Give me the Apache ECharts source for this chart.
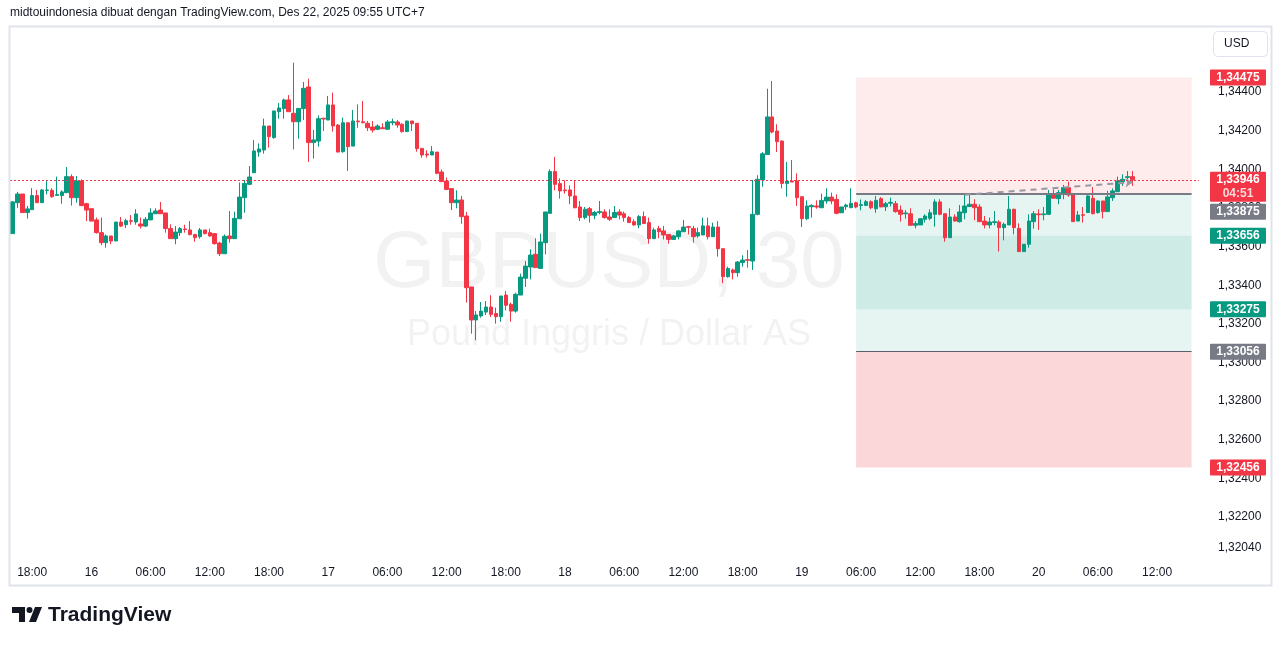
<!DOCTYPE html>
<html><head><meta charset="utf-8">
<script src="https://cdn.jsdelivr.net/npm/echarts@6/dist/echarts.min.js"></script>
<style>html,body{margin:0;padding:0;background:#fff;}#c{width:1281px;height:646px;}</style>
</head><body><div id="c"></div>
<script>
// ---- data (30-minute GBPUSD candles) ----
const opens = [1.33667,1.33827,1.33872,1.33776,1.33791,1.33864,1.33827,1.33891,1.33891,1.33865,
1.33864,1.33879,1.33962,1.33853,1.33939,1.33822,1.33796,1.33738,1.33672,1.33620,
1.33655,1.33629,1.33727,1.33713,1.33734,1.33727,1.33717,1.33706,1.33738,1.33770,
1.33789,1.33774,1.33693,1.33641,1.33672,1.33691,1.33686,1.33663,1.33651,1.33686,
1.33672,1.33667,1.33618,1.33563,1.33655,1.33641,1.33744,1.33853,1.33922,1.33982,
1.34089,1.34100,1.34224,1.34164,1.34298,1.34314,1.34359,1.34290,1.34246,1.34314,
1.34426,1.34138,1.34146,1.34264,1.34255,1.34333,1.34229,1.34091,1.34241,1.34120,
1.34250,1.34246,1.34238,1.34219,1.34207,1.34215,1.34207,1.34241,1.34245,1.34233,
1.34195,1.34250,1.34238,1.34108,1.34079,1.34074,1.34089,1.33986,1.33939,1.33900,
1.33827,1.33841,1.33758,1.33391,1.33220,1.33241,1.33261,1.33287,1.33253,1.33237,
1.33349,1.33301,1.33266,1.33349,1.33436,1.33494,1.33560,1.33487,1.33620,1.33772,
1.33988,1.33926,1.33893,1.33893,1.33862,1.33805,1.33750,1.33796,1.33762,1.33776,
1.33779,1.33753,1.33750,1.33779,1.33770,1.33750,1.33729,1.33712,1.33755,1.33724,
1.33641,1.33693,1.33681,1.33663,1.33637,1.33651,1.33677,1.33703,1.33693,1.33655,
1.33660,1.33707,1.33651,1.33701,1.33589,1.33444,1.33479,1.33465,1.33517,1.33532,
1.33525,1.33767,1.33945,1.34077,1.34271,1.34198,1.34146,1.33927,1.33939,1.33939,
1.33858,1.33744,1.33806,1.33810,1.33801,1.33836,1.33856,1.33844,1.33775,1.33806,
1.33801,1.33827,1.33813,1.33813,1.33832,1.33796,1.33848,1.33806,1.33824,1.33822,
1.33789,1.33770,1.33770,1.33710,1.33712,1.33741,1.33746,1.33767,1.33831,1.33770,
1.33646,1.33753,1.33729,1.33775,1.33807,1.33819,1.33805,1.33732,1.33712,1.33725,
1.33727,1.33698,1.33712,1.33793,1.33694,1.33574,1.33612,1.33729,1.33769,1.33765,
1.33767,1.33874,1.33848,1.33874,1.33905,1.33870,1.33732,1.33765,1.33776,1.33850,
1.33776,1.33836,1.33781,1.33853,1.33884,1.33936,1.33958,1.33962];
const highs = [1.33836,1.33883,1.33872,1.33810,1.33902,1.33893,1.33898,1.33939,1.33902,1.33962,
1.33891,1.34012,1.33974,1.33965,1.33948,1.33827,1.33796,1.33750,1.33750,1.33663,
1.33655,1.33727,1.33753,1.33744,1.33763,1.33793,1.33750,1.33753,1.33798,1.33798,
1.33831,1.33774,1.33715,1.33706,1.33701,1.33713,1.33732,1.33663,1.33696,1.33686,
1.33693,1.33667,1.33625,1.33663,1.33784,1.33781,1.33931,1.33945,1.34017,1.34152,
1.34134,1.34262,1.34224,1.34302,1.34343,1.34366,1.34384,1.34552,1.34315,1.34452,
1.34469,1.34203,1.34279,1.34267,1.34379,1.34397,1.34234,1.34267,1.34241,1.34307,
1.34336,1.34353,1.34250,1.34250,1.34233,1.34238,1.34255,1.34262,1.34255,1.34238,
1.34250,1.34250,1.34238,1.34108,1.34098,1.34120,1.34089,1.33999,1.33957,1.33900,
1.33891,1.33862,1.33779,1.33391,1.33266,1.33313,1.33318,1.33348,1.33284,1.33344,
1.33370,1.33310,1.33361,1.33460,1.33525,1.33586,1.33643,1.33667,1.33779,1.34000,
1.34064,1.33953,1.33943,1.33917,1.33939,1.33836,1.33805,1.33805,1.33784,1.33836,
1.33793,1.33793,1.33810,1.33793,1.33781,1.33758,1.33741,1.33763,1.33781,1.33750,
1.33698,1.33707,1.33707,1.33663,1.33660,1.33686,1.33738,1.33707,1.33707,1.33698,
1.33750,1.33750,1.33724,1.33732,1.33589,1.33496,1.33486,1.33525,1.33555,1.33582,
1.33945,1.33969,1.34089,1.34417,1.34457,1.34233,1.34150,1.34038,1.34048,1.33979,
1.33858,1.33839,1.33819,1.33839,1.33874,1.33901,1.33879,1.33870,1.33805,1.33822,
1.33901,1.33832,1.33844,1.33841,1.33839,1.33862,1.33856,1.33832,1.33853,1.33836,
1.33813,1.33789,1.33798,1.33732,1.33746,1.33767,1.33793,1.33845,1.33845,1.33770,
1.33798,1.33767,1.33815,1.33874,1.33870,1.33845,1.33819,1.33758,1.33750,1.33784,
1.33736,1.33724,1.33862,1.33796,1.33720,1.33612,1.33767,1.33784,1.33793,1.33805,
1.33893,1.33896,1.33893,1.33919,1.33936,1.33870,1.33784,1.33805,1.33865,1.33908,
1.33839,1.33836,1.33888,1.33901,1.33962,1.33974,1.33991,1.33991];
const lows = [1.33667,1.33800,1.33776,1.33745,1.33791,1.33827,1.33827,1.33870,1.33853,1.33862,
1.33822,1.33879,1.33812,1.33827,1.33812,1.33732,1.33732,1.33667,1.33607,1.33594,
1.33612,1.33629,1.33701,1.33696,1.33713,1.33713,1.33693,1.33701,1.33738,1.33770,
1.33770,1.33672,1.33641,1.33612,1.33655,1.33672,1.33658,1.33625,1.33641,1.33663,
1.33650,1.33610,1.33551,1.33563,1.33620,1.33641,1.33744,1.33775,1.33919,1.33982,
1.34065,1.34081,1.34112,1.34158,1.34262,1.34262,1.34298,1.34103,1.34158,1.34255,
1.34038,1.34055,1.34117,1.34198,1.34255,1.34195,1.34089,1.34086,1.33991,1.34120,
1.34215,1.34238,1.34198,1.34190,1.34202,1.34210,1.34207,1.34228,1.34215,1.34190,
1.34195,1.34198,1.34091,1.34060,1.34060,1.34074,1.33974,1.33936,1.33893,1.33789,
1.33798,1.33718,1.33310,1.33149,1.33115,1.33232,1.33246,1.33235,1.33201,1.33211,
1.33270,1.33211,1.33258,1.33349,1.33391,1.33430,1.33491,1.33487,1.33560,1.33772,
1.33891,1.33848,1.33874,1.33819,1.33798,1.33732,1.33741,1.33724,1.33741,1.33767,
1.33745,1.33732,1.33750,1.33741,1.33729,1.33724,1.33707,1.33694,1.33719,1.33615,
1.33641,1.33643,1.33637,1.33615,1.33634,1.33637,1.33677,1.33663,1.33620,1.33646,
1.33660,1.33637,1.33651,1.33548,1.33410,1.33439,1.33430,1.33444,1.33496,1.33491,
1.33479,1.33762,1.33910,1.34077,1.34186,1.34089,1.33901,1.33858,1.33934,1.33810,
1.33701,1.33737,1.33750,1.33796,1.33801,1.33822,1.33819,1.33767,1.33775,1.33789,
1.33801,1.33798,1.33788,1.33810,1.33793,1.33775,1.33805,1.33784,1.33807,1.33775,
1.33729,1.33744,1.33710,1.33694,1.33712,1.33724,1.33736,1.33703,1.33762,1.33625,
1.33646,1.33729,1.33724,1.33741,1.33807,1.33736,1.33729,1.33694,1.33694,1.33710,
1.33574,1.33632,1.33712,1.33663,1.33574,1.33574,1.33594,1.33693,1.33686,1.33736,
1.33763,1.33850,1.33819,1.33845,1.33858,1.33729,1.33732,1.33724,1.33776,1.33767,
1.33770,1.33746,1.33781,1.33836,1.33884,1.33914,1.33948,1.33914];
const closes = [1.33831,1.33872,1.33776,1.33795,1.33864,1.33827,1.33893,1.33893,1.33858,1.33869,
1.33883,1.33962,1.33853,1.33939,1.33812,1.33789,1.33732,1.33672,1.33620,1.33655,
1.33629,1.33727,1.33706,1.33734,1.33731,1.33769,1.33706,1.33741,1.33774,1.33784,
1.33770,1.33693,1.33641,1.33675,1.33693,1.33688,1.33662,1.33646,1.33686,1.33667,
1.33655,1.33615,1.33563,1.33653,1.33641,1.33746,1.33856,1.33927,1.33960,1.34095,
1.34105,1.34224,1.34169,1.34302,1.34317,1.34359,1.34298,1.34246,1.34315,1.34419,
1.34138,1.34152,1.34262,1.34260,1.34333,1.34224,1.34089,1.34241,1.34117,1.34250,
1.34246,1.34241,1.34215,1.34203,1.34224,1.34210,1.34245,1.34246,1.34229,1.34195,
1.34250,1.34236,1.34107,1.34074,1.34074,1.34091,1.33979,1.33936,1.33896,1.33827,
1.33841,1.33755,1.33387,1.33220,1.33246,1.33266,1.33287,1.33249,1.33237,1.33344,
1.33296,1.33266,1.33353,1.33442,1.33499,1.33556,1.33491,1.33624,1.33779,1.33988,
1.33922,1.33888,1.33889,1.33862,1.33801,1.33750,1.33793,1.33762,1.33776,1.33781,
1.33750,1.33741,1.33776,1.33763,1.33750,1.33724,1.33712,1.33755,1.33719,1.33641,
1.33686,1.33677,1.33660,1.33637,1.33655,1.33681,1.33701,1.33700,1.33651,1.33672,
1.33707,1.33651,1.33701,1.33589,1.33444,1.33486,1.33465,1.33520,1.33530,1.33529,
1.33767,1.33948,1.34080,1.34271,1.34193,1.34143,1.33927,1.33939,1.33934,1.33853,
1.33744,1.33810,1.33813,1.33805,1.33839,1.33856,1.33836,1.33772,1.33805,1.33815,
1.33824,1.33805,1.33817,1.33832,1.33801,1.33839,1.33805,1.33822,1.33829,1.33781,
1.33767,1.33774,1.33710,1.33719,1.33744,1.33758,1.33775,1.33831,1.33767,1.33646,
1.33753,1.33732,1.33779,1.33810,1.33819,1.33801,1.33729,1.33712,1.33727,1.33729,
1.33698,1.33715,1.33793,1.33698,1.33574,1.33612,1.33732,1.33770,1.33765,1.33769,
1.33870,1.33850,1.33879,1.33905,1.33867,1.33729,1.33763,1.33762,1.33862,1.33770,
1.33836,1.33781,1.33857,1.33888,1.33939,1.33948,1.33962,1.33946];

// time-axis tick labels (bar index -> label); bar 0 = Dec 15 16:00
const timeTickIndex = [4,16,28,40,52,64,76,88,100,112,124,136,148,160,172,184,196,208,220,232];
const timeTickText  = ['18:00','16','06:00','12:00','18:00','17','06:00','12:00','18:00','18','06:00','12:00','18:00','19','06:00','12:00','18:00','20','06:00','12:00'];
const totalSlots = 241;

// price scale tick labels
const priceTicks = [1.344,1.342,1.340,1.338,1.336,1.334,1.332,1.330,1.328,1.326,1.324,1.322,1.3204];

// current price and position-tool levels
const currentPrice = 1.33946;
const countdown = '04:51';
const levelStopTop = 1.34475;
const levelEntry = 1.33875;
const levelTarget1 = 1.33656;
const levelTarget2 = 1.33275;
const levelTarget3 = 1.33056;
const levelStopBottom = 1.32456;
const toolStartBar = 171, toolEndBar = 239;
const trendStart = [193, 1.33868];
const trendEnd = [227, 1.33933];

// ---- build ----
const UP = '#089981', DOWN = '#f23645', GREY = '#787b86';
const categories = [];
for (let i = 0; i < totalSlots; i++) {
  const k = timeTickIndex.indexOf(i);
  categories.push(k >= 0 ? timeTickText[k] : '');
}
const candleData = [];
for (let i = 0; i < totalSlots; i++) {
  candleData.push(i < opens.length ? [opens[i], closes[i], lows[i], highs[i]] : '-');
}
const fmt = v => v.toFixed(5).replace('.', ',');
const FONT = '"Liberation Sans", Arial, sans-serif';

const area = (a, b, color) => [{coord:[toolStartBar, a], itemStyle:{color}}, {coord:[toolEndBar, b]}];

const option = {
  animation: false,
  backgroundColor: '#ffffff',
  grid: {left: 10, right: 82, top: 29, bottom: 85, containLabel: false},
  xAxis: {
    type: 'category', data: categories, boundaryGap: true,
    axisLine: {show: false}, axisTick: {show: false}, splitLine: {show: false},
    axisLabel: {interval: 0, color: '#131722', fontSize: 12, fontFamily: FONT, margin: 6, hideOverlap: false}
  },
  yAxis: {
    type: 'value', position: 'right', min: 1.319725, max: 1.347261, scale: true,
    axisLine: {show: false}, axisTick: {show: false}, splitLine: {show: false},
    axisLabel: {color: '#131722', fontSize: 12, fontFamily: FONT, margin: 19,
      customValues: priceTicks, formatter: v => fmt(v)}
  },
  series: [{
    type: 'candlestick', data: candleData, barWidth: 4, z: 3,
    itemStyle: {color: UP, color0: DOWN, borderColor: UP, borderColor0: DOWN, borderWidth: 1},
    markArea: {
      silent: true, z: 1,
      data: [
        area(levelStopTop, levelEntry, 'rgba(242,54,69,0.10)'),
        area(levelEntry, levelTarget1, 'rgba(8,153,129,0.10)'),
        area(levelTarget1, levelTarget2, 'rgba(8,153,129,0.20)'),
        area(levelTarget2, levelTarget3, 'rgba(8,153,129,0.10)'),
        area(levelTarget3, levelStopBottom, 'rgba(242,54,69,0.20)')
      ]
    },
    markLine: {
      silent: true, precision: 5, symbol: ['none', 'none'], label: {show: false}, animation: false,
      data: [
        [{coord: [toolStartBar, levelEntry], lineStyle: {color: GREY, width: 2, type: 'solid'}}, {coord: [toolEndBar, levelEntry]}],
        [{coord: [toolStartBar, levelTarget3], lineStyle: {color: '#5d606b', width: 1, type: 'solid'}}, {coord: [toolEndBar, levelTarget3]}],
        [{coord: trendStart, symbol: 'none', lineStyle: {color: '#9598a1', width: 2, type: [6, 5]}}, {coord: trendEnd, symbol: 'arrow', symbolSize: 7}]
      ]
    }
  }]
};

const chart = echarts.init(document.getElementById('c'));
chart.setOption(option);

const yPx = v => chart.convertToPixel({yAxisIndex: 0}, v);
const g = [];
// current price dotted line
const cy = Math.round(yPx(currentPrice)) + 0.5;
g.push({type: 'line', shape: {x1: 10, y1: cy, x2: 1199, y2: cy}, style: {stroke: DOWN, lineWidth: 1, lineDash: [2, 2]}, z: 40, silent: true});
// frame
g.push({type: 'rect', shape: {x: 9.5, y: 26.5, width: 1262, height: 559}, style: {fill: 'none', stroke: '#e0e3eb', lineWidth: 2}, z: 50, silent: true});
// title
g.push({type: 'text', x: 10, y: 13, style: {text: 'midtouindonesia dibuat dengan TradingView.com, Des 22, 2025 09:55 UTC+7', fill: '#131722', font: '12px ' + FONT, textVerticalAlign: 'middle'}});
// watermark
g.push({type: 'text', x: 609, y: 265, z: 0, style: {text: 'GBPUSD, 30', fill: 'rgba(19,23,34,0.055)', font: '80px ' + FONT, textAlign: 'center', textVerticalAlign: 'middle'}});
g.push({type: 'text', x: 609, y: 335, z: 0, style: {text: 'Pound Inggris / Dollar AS', fill: 'rgba(19,23,34,0.055)', font: '36px ' + FONT, textAlign: 'center', textVerticalAlign: 'middle'}});
// USD button
g.push({type: 'rect', shape: {x: 1213.5, y: 31.5, width: 54, height: 25, r: 4}, style: {fill: '#fff', stroke: '#e0e3eb', lineWidth: 1}, z: 60});
g.push({type: 'text', x: 1224, y: 44, z: 61, style: {text: 'USD', fill: '#131722', font: '12px ' + FONT, textVerticalAlign: 'middle'}});
// price labels
function priceBox(top, h, bg, txt, sub) {
  g.push({type: 'rect', shape: {x: 1210, y: top, width: 56, height: h, r: 1}, style: {fill: bg}, z: 70});
  g.push({type: 'text', x: 1238, y: top + 8, z: 71, style: {text: txt, fill: '#fff', font: 'bold 12px ' + FONT, textAlign: 'center', textVerticalAlign: 'middle'}});
  if (sub) g.push({type: 'text', x: 1238, y: top + 22, z: 71, style: {text: sub, fill: 'rgba(255,255,255,0.8)', font: 'bold 12px ' + FONT, textAlign: 'center', textVerticalAlign: 'middle'}});
}
priceBox(yPx(levelStopTop) - 8, 16, DOWN, fmt(levelStopTop));
const curTop = yPx(currentPrice) - 8;
priceBox(curTop, 30, DOWN, fmt(currentPrice), countdown);
priceBox(Math.max(yPx(levelEntry) - 8, curTop + 32), 16, GREY, fmt(levelEntry));
priceBox(yPx(levelTarget1) - 8, 16, UP, fmt(levelTarget1));
priceBox(yPx(levelTarget2) - 8, 16, UP, fmt(levelTarget2));
priceBox(yPx(levelTarget3) - 8, 16, GREY, fmt(levelTarget3));
priceBox(yPx(levelStopBottom) - 8, 16, DOWN, fmt(levelStopBottom));
// TradingView logo
g.push({type: 'polygon', shape: {points: [[12,607],[25,607],[25,622],[19,622],[19,613],[12,613]]}, style: {fill: '#131722'}});
g.push({type: 'circle', shape: {cx: 29.5, cy: 610, r: 3}, style: {fill: '#131722'}});
g.push({type: 'polygon', shape: {points: [[35,607],[42,607],[36,622],[29,622]]}, style: {fill: '#131722'}});
g.push({type: 'text', x: 48, y: 615, style: {text: 'TradingView', fill: '#131722', font: 'bold 21px ' + FONT, textVerticalAlign: 'middle'}});
chart.setOption({graphic: g});
</script>
</body></html>
